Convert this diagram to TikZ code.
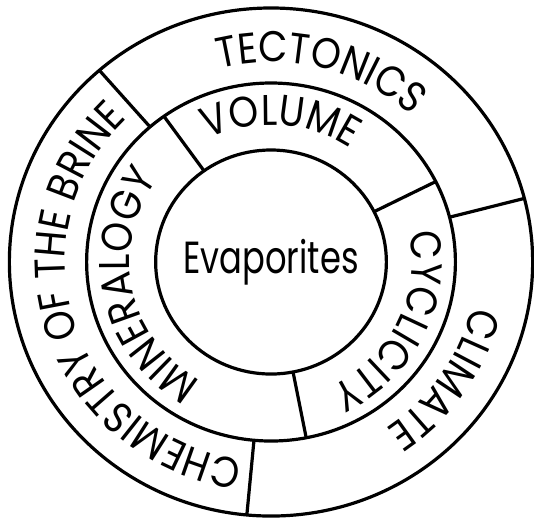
\documentclass[tikz,border=0pt]{standalone}
\usepackage{fontspec}
\setmainfont{Poppins}
\newfontfamily\ringfamily{Poppins}[FakeStretch=0.88]
\newfontfamily\centrefamily{Poppins}[FakeStretch=0.75]
\usetikzlibrary{decorations.text}

\newcommand{\ringfont}{\ringfamily\fontsize{43}{48}\selectfont}

\begin{document}
\begin{tikzpicture}[
    x=1.03pt, y=1pt,
    ring/.style={draw, line width=3.2pt},
    divider/.style={line width=3.2pt},
    ringtext/.style={decorate, decoration={text along path, text align=center, text={|\ringfont|#1}}}
]
\useasboundingbox (-263.1,-259) rectangle (255.3,262);

\coordinate (centre) at (0,0);
\draw[ring] (centre) circle (254);
\draw[ring] (centre) circle (179);
\draw[ring] (centre) circle (112);

\node (evap) at (centre) {\centrefamily\fontsize{45}{50}\selectfont Evaporites};

% outer ring
\draw[divider] (131:179) -- (131:254);
\draw[divider] (14.5:179) -- (14.5:254);
\draw[divider] (264.7:179) -- (264.7:254);
\path[ringtext={TECTONICS}] (135.5:200) arc[start angle=135.5, end angle=15.5, radius=200];
\path[ringtext={CLIMATE}] (26:200) arc[start angle=26, end angle=-94, radius=200];
\path[ringtext={CHEMISTRY OF THE BRINE}] (288:200) arc[start angle=288, end angle=108, radius=200];

% middle ring
\draw[divider] (125.5:112) -- (125.5:179);
\draw[divider] (26.7:112) -- (26.7:179);
\draw[divider] (281:112) -- (281:179);
\path[ringtext={VOLUME}] (146:137) arc[start angle=146, end angle=26, radius=137];
\path[ringtext={CYCLICITY}] (34:137) arc[start angle=34, end angle=-86, radius=137];
\path[ringtext={MINERALOGY}] (251.5:137) arc[start angle=251.5, end angle=131.5, radius=137];

\end{tikzpicture}
\end{document}
